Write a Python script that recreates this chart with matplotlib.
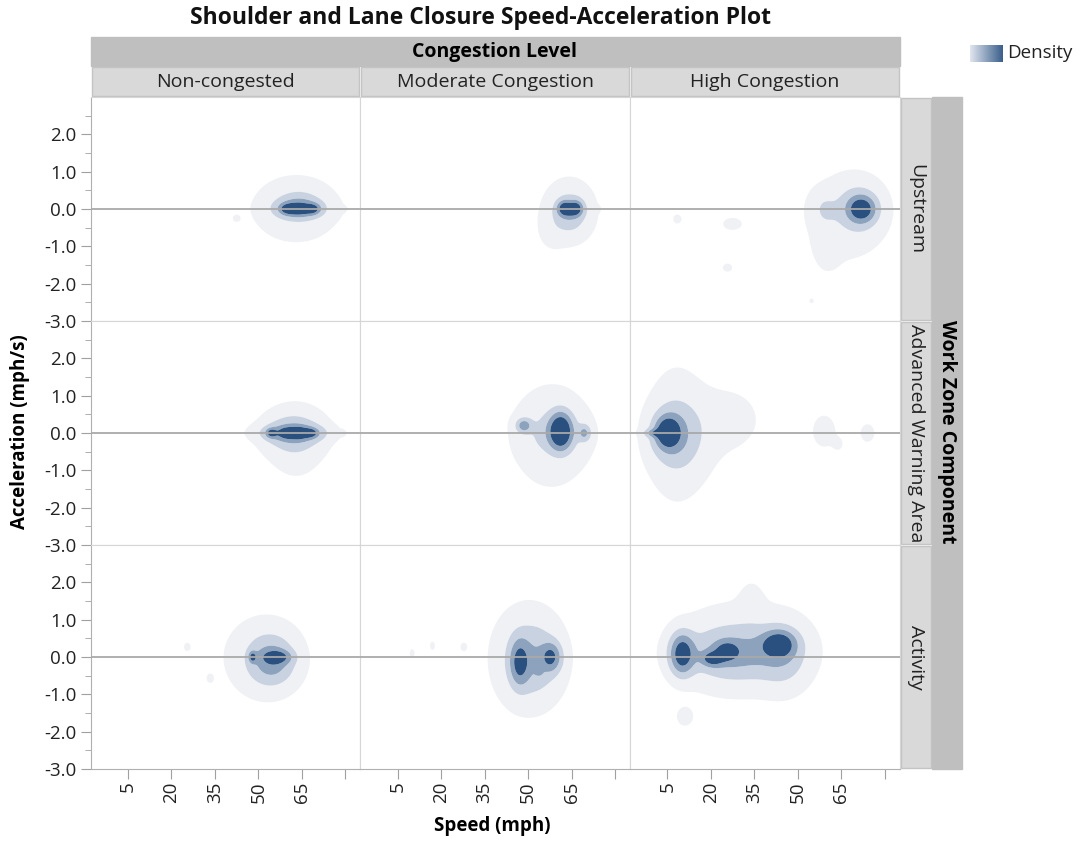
import numpy as np
import matplotlib
matplotlib.use('Agg')
import matplotlib.pyplot as plt
from matplotlib.patches import Rectangle
from matplotlib.colors import LinearSegmentedColormap

congestion_levels = ['Non-congested', 'Moderate Congestion', 'High Congestion']
zone_components = ['Upstream', 'Advanced Warning Area', 'Activity']
speed_ticks = [5, 20, 35, 50, 65, 80]
speed_tick_labels = ['5', '20', '35', '50', '65', '']
accel_ticks = [-3, -2, -1, 0, 1, 2]
accel_tick_labels = ['-3.0', '-2.0', '-1.0', '0.0', '1.0', '2.0']

# density clusters: (speed, accel, speed spread, accel spread, height)
upstream_noncongested = [
    (63, 0.0, 10.0, 0.6, 0.12), (64, 0.15, 5.0, 0.25, 0.2), (64, 0.0, 5.5, 0.18, 0.45),
    (60.3, 0.0, 1.8, 0.09, 0.6), (64.0, 0.0, 1.8, 0.09, 0.6), (68.5, 0.0, 1.8, 0.09, 0.6),
    (42.5, -0.25, 0.8, 0.06, 0.1), (79, 0.0, 0.8, 0.05, 0.1),
]
upstream_moderate = [
    (64, -0.05, 6.5, 0.62, 0.1), (58, -0.55, 3.0, 0.35, 0.06), (64.5, -0.1, 3.8, 0.35, 0.3),
    (62.5, 0.03, 1.6, 0.13, 0.6), (66.5, 0.03, 1.6, 0.13, 0.6), (64.5, -0.05, 2.5, 0.12, 0.3),
    (73.5, 0.0, 0.8, 0.06, 0.1),
]
upstream_high = [
    (72, 0.0, 3.0, 0.22, 0.7), (71, 0.0, 5.0, 0.42, 0.35), (66, -0.25, 10.0, 0.9, 0.08),
    (59, 0.0, 3.0, 0.3, 0.15), (60, -1.0, 3.0, 0.45, 0.06), (8.4, -0.27, 1.2, 0.1, 0.08),
    (27.4, -0.4, 3.0, 0.15, 0.07), (25.7, -1.57, 1.5, 0.1, 0.07), (54.7, -2.46, 0.6, 0.05, 0.08),
]
advanced_noncongested = [
    (63, -0.25, 6.5, 0.65, 0.1), (62, 0.0, 6.5, 0.35, 0.32), (62, 0.0, 7.0, 0.15, 0.45),
    (54.5, 0.0, 1.2, 0.08, 0.55), (60, 0.0, 1.6, 0.08, 0.55), (64, 0.0, 1.8, 0.09, 0.6),
    (68, 0.0, 1.6, 0.08, 0.55), (79, 0.0, 0.8, 0.05, 0.1),
]
advanced_moderate = [
    (58, -0.08, 11.0, 1.15, 0.08), (59, 0.0, 6.0, 0.4, 0.25), (61.3, 0.05, 2.6, 0.32, 1.0),
    (48.5, 0.2, 1.8, 0.13, 0.5), (69.5, 0.0, 1.5, 0.15, 0.4), (50, -0.85, 0.6, 0.05, 0.1),
]
advanced_high = [
    (5, 0.02, 2.6, 0.25, 0.8), (1, 0.0, 2.5, 0.07, 0.4), (6, -0.02, 4.5, 0.45, 0.35),
    (10, -0.1, 7.0, 0.75, 0.18), (8, 0.0, 6.0, 1.15, 0.1), (26, 0.35, 8.0, 0.6, 0.08),
    (59, 0.05, 3.2, 0.35, 0.08), (64, -0.3, 1.5, 0.15, 0.05), (74, 0.0, 2.2, 0.22, 0.07),
]
activity_noncongested = [
    (51, 0.0, 9.0, 0.7, 0.09), (54, -0.05, 6.0, 0.5, 0.28), (55, -0.15, 4.5, 0.35, 0.25),
    (56.5, 0.0, 3.2, 0.12, 0.55), (48, 0.0, 0.9, 0.1, 0.6), (25.5, 0.27, 0.8, 0.08, 0.1),
    (33.4, -0.57, 0.8, 0.08, 0.1),
]
activity_moderate = [
    (48, -0.05, 8.0, 0.95, 0.09), (52, -0.05, 6.0, 0.65, 0.36), (47, -0.15, 2.2, 0.4, 0.6),
    (58, 0.0, 2.3, 0.25, 0.6), (53.7, -0.4, 0.8, 0.06, 0.3), (10, 0.1, 0.6, 0.08, 0.1),
    (17, 0.3, 0.6, 0.08, 0.1), (27.8, 0.27, 0.8, 0.08, 0.1),
]
activity_high = [
    (33, 0.35, 15.0, 0.75, 0.08), (28, 0.1, 11.0, 0.6, 0.22), (28, 0.1, 11.0, 0.4, 0.26),
    (10, 0.08, 2.8, 0.36, 0.85), (20.5, -0.05, 2.5, 0.13, 0.6), (25.5, 0.15, 2.5, 0.16, 0.6),
    (43.5, 0.35, 3.8, 0.24, 0.75), (45, 0.0, 5.5, 0.55, 0.25), (34, 1.5, 3.0, 0.4, 0.06),
    (11, -1.6, 2.5, 0.22, 0.07),
]
panel_clusters = [
    [upstream_noncongested, upstream_moderate, upstream_high],
    [advanced_noncongested, advanced_moderate, advanced_high],
    [activity_noncongested, activity_moderate, activity_high],
]

density_levels = [0.04, 0.2, 0.42, 0.7, 100]
density_colors = ['#eff1f5', '#c8d2e0', '#8ca2bd', '#2a5080']

plt.rcParams['font.family'] = ['Open Sans', 'DejaVu Sans']
W, H = 1080, 841
fig = plt.figure(figsize=(10.8, 8.41), dpi=100)

def px_rect(x0, y0, x1, y1):
    return [x0 / W, 1 - y1 / H, (x1 - x0) / W, (y1 - y0) / H]

col_edges = [90.5, 360.3, 630.1, 900]
row_edges = [97, 321, 545, 769]

xs = np.linspace(-8, 86, 470)
ys = np.linspace(-3, 3, 300)
X, Y = np.meshgrid(xs, ys)

for r in range(3):
    for c in range(3):
        ax = fig.add_axes(px_rect(col_edges[c], row_edges[r], col_edges[c + 1], row_edges[r + 1]))
        Z = np.zeros_like(X)
        for sp, ac, ssp, sac, h in panel_clusters[r][c]:
            Z += h * np.exp(-0.5 * ((X - sp) / ssp) ** 2 - 0.5 * ((Y - ac) / sac) ** 2)
        ax.contourf(X, Y, Z, levels=density_levels, colors=density_colors, antialiased=True)
        ax.axhline(0, color='#a9a9a9', lw=1.3, zorder=3)
        ax.set_xlim(-7.9, 85.2)
        ax.set_ylim(-3, 3)
        for s in ax.spines.values():
            s.set_color('#d6d6d6')
        ax.set_xticks(speed_ticks)
        ax.set_xticklabels(speed_tick_labels, rotation=90)
        ax.set_yticks(accel_ticks)
        ax.set_yticklabels(accel_tick_labels)
        ax.set_yticks(np.arange(-2.5, 3, 1.0), minor=True)
        ax.tick_params(axis='both', which='major', length=7, color='#a0a0a0', labelsize=13.5,
                       labelcolor='#222222', pad=3)
        ax.tick_params(axis='y', which='minor', length=4, color='#a0a0a0')
        ax.tick_params(axis='x', pad=2)
        if c == 0:
            ax.spines['left'].set_color('#b0b0b0')
        else:
            ax.tick_params(axis='y', which='both', left=False, labelleft=False)
        if r == 2:
            ax.spines['bottom'].set_color('#b0b0b0')
        else:
            ax.tick_params(axis='x', bottom=False, labelbottom=False)

# overlay in pixel coordinates for strips, titles and legend
ov = fig.add_axes([0, 0, 1, 1], zorder=-1)
ov.set_xlim(0, W)
ov.set_ylim(H, 0)
ov.axis('off')

ov.text(480, 18, 'Shoulder and Lane Closure Speed-Acceleration Plot', ha='center', va='center',
        fontsize=16.5, fontweight='bold', color='#111111')
ov.add_patch(Rectangle((90.5, 37), 809.5, 29, color='#bfbfbf'))
ov.text(495, 52, 'Congestion Level', ha='center', va='center', fontsize=14, fontweight='bold')
for c, name in enumerate(congestion_levels):
    ov.add_patch(Rectangle((col_edges[c] + 1, 67), col_edges[c + 1] - col_edges[c] - 2, 29,
                           facecolor='#d9d9d9', edgecolor='#c4c4c4', lw=1))
    ov.text((col_edges[c] + col_edges[c + 1]) / 2, 82, name, ha='center', va='center', fontsize=14,
            color='#222222')
for r, name in enumerate(zone_components):
    ov.add_patch(Rectangle((901, row_edges[r] + 1), 30, row_edges[r + 1] - row_edges[r] - 2,
                           facecolor='#d9d9d9', edgecolor='#c4c4c4', lw=1))
    ov.text(916, (row_edges[r] + row_edges[r + 1]) / 2, name, ha='center', va='center', fontsize=14,
            rotation=270, color='#222222')
ov.add_patch(Rectangle((932, 97), 30, 672, color='#bfbfbf'))
ov.text(947, 432, 'Work Zone Component', ha='center', va='center', fontsize=14, fontweight='bold',
        rotation=270)

ov.text(20, 432, 'Acceleration (mph/s)', ha='center', va='center', fontsize=13.5, fontweight='bold',
        rotation=90)
ov.text(492, 826, 'Speed (mph)', ha='center', va='center', fontsize=13.5, fontweight='bold')

# density legend swatch
grad = LinearSegmentedColormap.from_list('dens', ['#dfe5ee', '#3b5f8c'])
ov.imshow(np.linspace(0, 1, 50).reshape(1, -1), cmap=grad, extent=(970, 1003, 62, 45), aspect='auto')
ov.set_xlim(0, W)
ov.set_ylim(H, 0)
ov.text(1007, 53, 'Density', ha='left', va='center', fontsize=13.5, color='#222222')

fig.savefig('out.png', dpi=100)
